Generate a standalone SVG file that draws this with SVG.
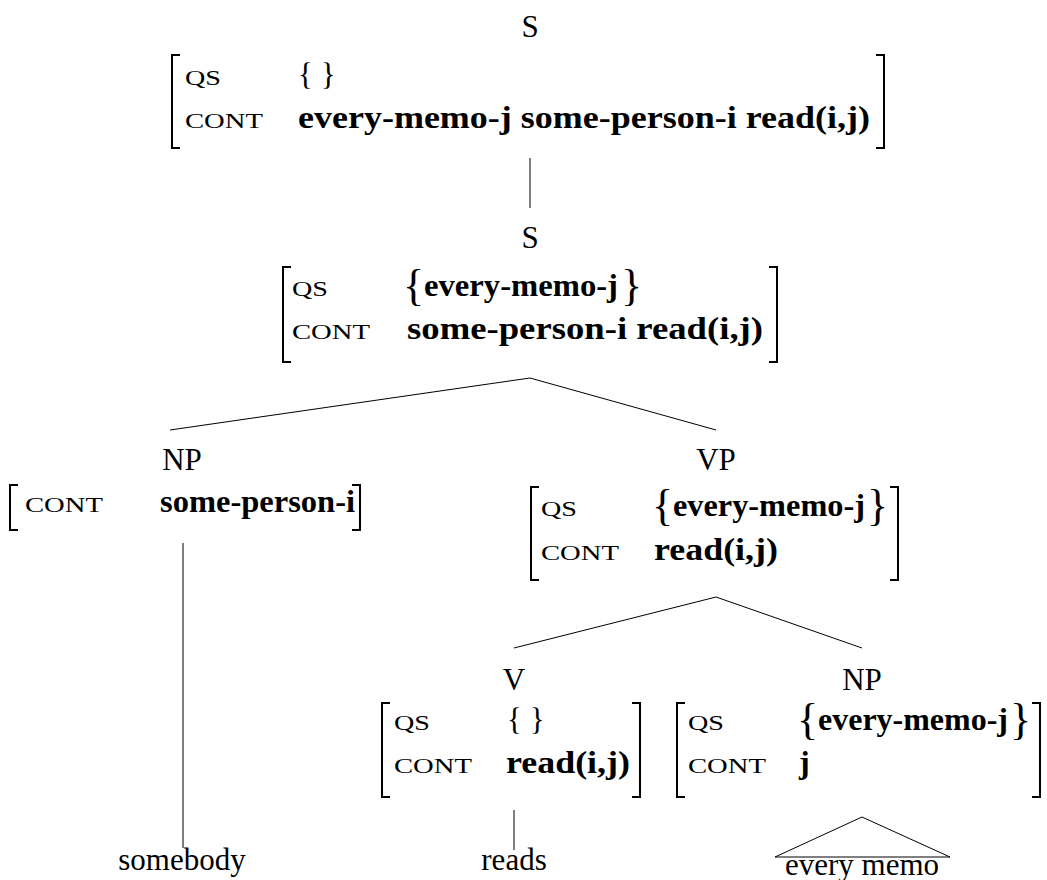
<svg xmlns="http://www.w3.org/2000/svg" width="1047" height="880" viewBox="0 0 1047 880">
<style>
text{font-family:"Liberation Serif","DejaVu Serif",serif;fill:#000}
.cat{font-size:31px;text-anchor:middle}
.sc{font-size:22px}
.rm{font-size:31px}
.bf{font-size:32px;font-weight:bold}
.br{font-size:44px}
.brk{fill:none;stroke:#000;stroke-width:2}
.edge{fill:none;stroke:#000;stroke-width:1}
</style>
<rect width="1047" height="880" fill="#fff"/>
<g id="connectors">
<line class="edge" x1="530" y1="158" x2="530" y2="208"/>
<line class="edge" x1="530" y1="378" x2="170" y2="430"/>
<line class="edge" x1="530" y1="378" x2="716" y2="430"/>
<line class="edge" x1="183" y1="543" x2="183" y2="848"/>
<line class="edge" x1="716" y1="597" x2="514" y2="648"/>
<line class="edge" x1="716" y1="597" x2="862" y2="648"/>
<line class="edge" x1="514" y1="810" x2="514" y2="850"/>
<path class="edge" d="M862,817 L775,857 L950,857 Z"/>
</g>
<g id="node-s-top">
<text class="cat" x="530" y="37">S</text>
<path class="brk" d="M180,55 H172 V148 H180"/>
<path class="brk" d="M876,55 H884 V148 H876"/>
<text class="sc" x="185" y="85" textLength="36" lengthAdjust="spacingAndGlyphs">QS</text>
<text class="rm" x="298" y="85">{ }</text>
<text class="sc" x="185" y="128" textLength="78" lengthAdjust="spacingAndGlyphs">CONT</text>
<text class="bf" x="298" y="128" textLength="572" lengthAdjust="spacingAndGlyphs">every-memo-j some-person-i read(i,j)</text>
</g>
<g id="node-s-mid">
<text class="cat" x="530" y="248">S</text>
<path class="brk" d="M291,267 H283 V362 H291"/>
<path class="brk" d="M769,267 H777 V362 H769"/>
<text class="sc" x="292" y="296" textLength="36" lengthAdjust="spacingAndGlyphs">QS</text>
<text class="br" x="403" y="300">{</text>
<text class="bf" x="424" y="296" textLength="194" lengthAdjust="spacingAndGlyphs">every-memo-j</text>
<text class="br" x="621" y="300">}</text>
<text class="sc" x="292" y="339" textLength="78" lengthAdjust="spacingAndGlyphs">CONT</text>
<text class="bf" x="407" y="339" textLength="356" lengthAdjust="spacingAndGlyphs">some-person-i read(i,j)</text>
</g>
<g id="node-np-subj">
<text class="cat" x="182" y="470">NP</text>
<path class="brk" d="M18,485 H10 V530 H18"/>
<path class="brk" d="M352,485 H360 V530 H352"/>
<text class="sc" x="25" y="512" textLength="78" lengthAdjust="spacingAndGlyphs">CONT</text>
<text class="bf" x="160" y="512" textLength="195" lengthAdjust="spacingAndGlyphs">some-person-i</text>
</g>
<g id="node-vp">
<text class="cat" x="716" y="470">VP</text>
<path class="brk" d="M539,487 H531 V580 H539"/>
<path class="brk" d="M890,487 H898 V580 H890"/>
<text class="sc" x="541" y="516" textLength="36" lengthAdjust="spacingAndGlyphs">QS</text>
<text class="br" x="652" y="520">{</text>
<text class="bf" x="673" y="516" textLength="192" lengthAdjust="spacingAndGlyphs">every-memo-j</text>
<text class="br" x="867" y="520">}</text>
<text class="sc" x="541" y="560" textLength="78" lengthAdjust="spacingAndGlyphs">CONT</text>
<text class="bf" x="654" y="560" textLength="124" lengthAdjust="spacingAndGlyphs">read(i,j)</text>
</g>
<g id="node-v">
<text class="cat" x="514" y="690">V</text>
<path class="brk" d="M390,703 H382 V797 H390"/>
<path class="brk" d="M632,703 H640 V797 H632"/>
<text class="sc" x="394" y="730" textLength="36" lengthAdjust="spacingAndGlyphs">QS</text>
<text class="rm" x="507" y="730">{ }</text>
<text class="sc" x="394" y="773" textLength="78" lengthAdjust="spacingAndGlyphs">CONT</text>
<text class="bf" x="506" y="773" textLength="124" lengthAdjust="spacingAndGlyphs">read(i,j)</text>
</g>
<g id="node-np-obj">
<text class="cat" x="862" y="690">NP</text>
<path class="brk" d="M685,703 H677 V797 H685"/>
<path class="brk" d="M1032,703 H1040 V797 H1032"/>
<text class="sc" x="688" y="730" textLength="36" lengthAdjust="spacingAndGlyphs">QS</text>
<text class="br" x="797" y="734">{</text>
<text class="bf" x="818" y="730" textLength="190" lengthAdjust="spacingAndGlyphs">every-memo-j</text>
<text class="br" x="1010" y="734">}</text>
<text class="sc" x="688" y="773" textLength="78" lengthAdjust="spacingAndGlyphs">CONT</text>
<text class="bf" x="799" y="773">j</text>
</g>
<g id="leaf-somebody"><text class="cat" x="182" y="870">somebody</text></g>
<g id="leaf-reads"><text class="cat" x="514" y="870">reads</text></g>
<g id="leaf-every-memo"><text class="cat" x="862" y="875">every memo</text></g>
</svg>
